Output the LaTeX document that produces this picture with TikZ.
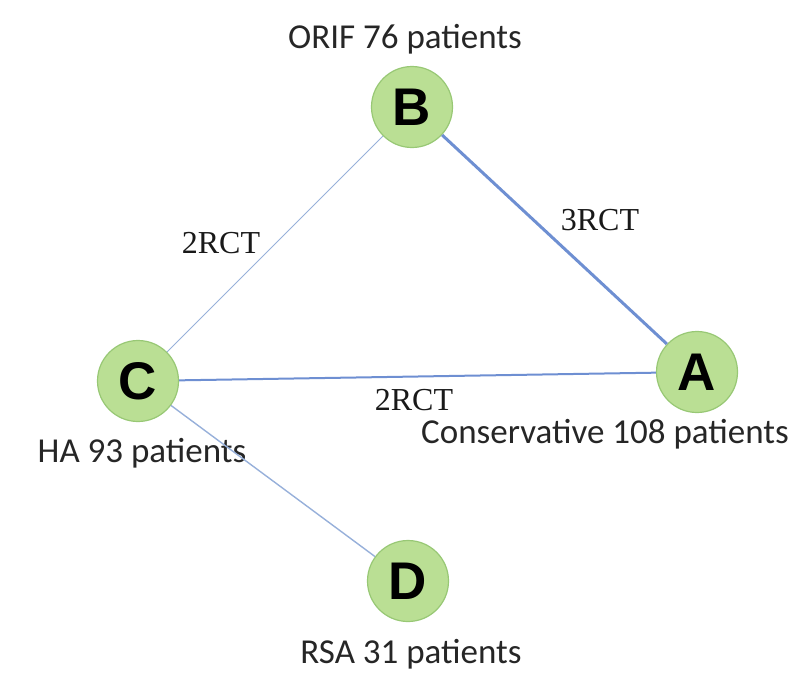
\documentclass[tikz,border=0pt]{standalone}
\usepackage{fontspec}
\usepackage{xcolor}
\usepackage{tikz}
\usetikzlibrary{positioning}
\newfontfamily\lblfont{Carlito}
\newfontfamily\rctfont{Liberation Serif}
\newfontfamily\letterfont{Liberation Sans}
\definecolor{Leaf}{HTML}{BADF94}
\definecolor{LeafRim}{HTML}{98C875}
\definecolor{Wire}{HTML}{6E8FD2}
\definecolor{WireLight}{HTML}{97B0DA}

\begin{document}
\begin{tikzpicture}[
  x=1pt,y=-1pt,
  arm/.style={circle,draw=LeafRim,line width=1.2pt,fill=Leaf,minimum size=81pt,inner sep=0pt,font=\letterfont\bfseries\fontsize{53}{53}\selectfont},
  cohort/.style={anchor=base,font=\lblfont\fontsize{35}{37}\selectfont,text=black!85},
  trials/.style={anchor=base,font=\rctfont\fontsize{32}{34}\selectfont,text=black!90},
  link/.style={draw=WireLight,line width=1pt}
]
\useasboundingbox (0,0) rectangle (799,678);
\node[arm] (B) at (412,107) {B};
\node[arm] (A) at (697,372) {A};
\node[arm] (C) at (138,381) {C};
\node[arm] (D) at (408,581) {D};
\node[cohort] (orif) at (405,48) {ORIF 76 patients};
\node[cohort] (cons) at (605,443) {Conservative 108 patients};
\node[cohort] (ha) at (142,462) {HA 93 patients};
\node[cohort] (rsa) at (411,663) {RSA 31 patients};
\draw[link] (C) -- (B);
\draw[link,line width=1.4pt] (C) -- (D);
\draw[link,draw=Wire,line width=2pt] (C) -- (A);
\draw[link,draw=Wire,line width=3pt] (B) -- (A);
\node[trials] (cb) at (221,253) {2RCT};
\node[trials] (ba) at (600,230) {3RCT};
\node[trials] (ca) at (414,410) {2RCT};
\end{tikzpicture}
\end{document}
